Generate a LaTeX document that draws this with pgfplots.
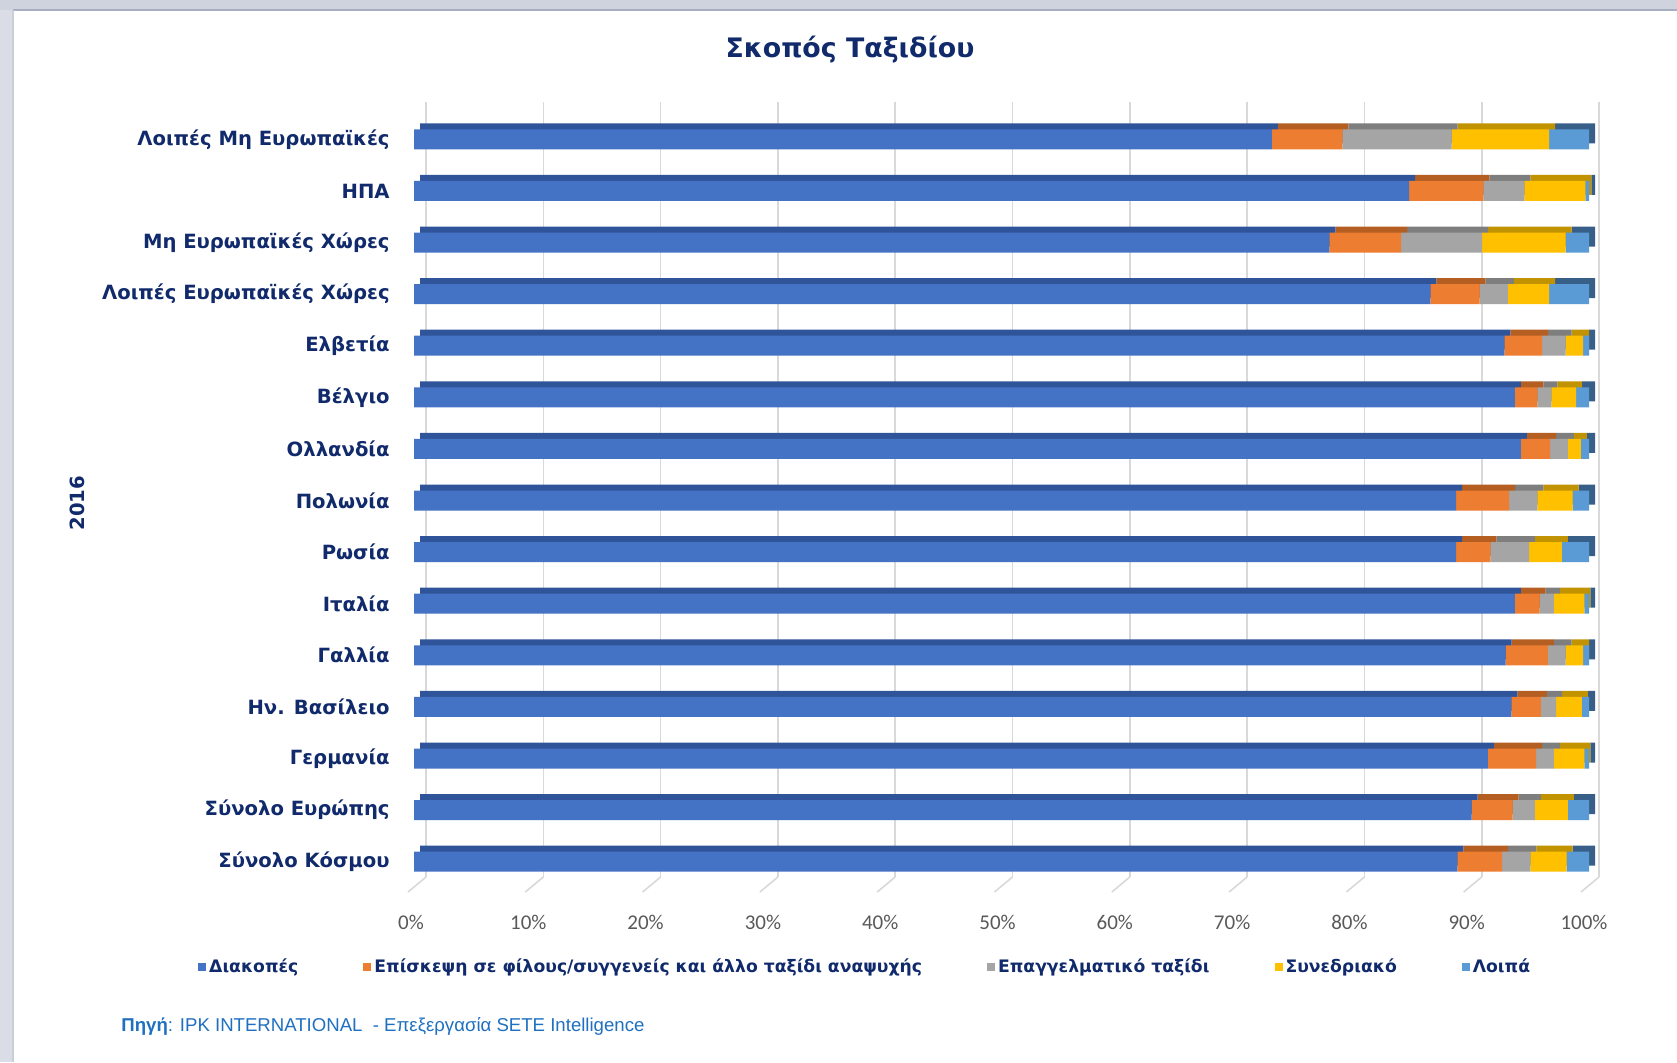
\documentclass[border=0pt]{standalone}
\usepackage{fontspec}
\setmainfont{DejaVu Sans}
\newfontfamily\calib{Carlito}
\newfontfamily\srcfont{Liberation Sans}
\usepackage{pgfplots}
\pgfplotsset{compat=1.18}
\usepackage{pgfplotstable}
\definecolor{navy}{HTML}{102A6B}
\definecolor{cA}{HTML}{4472C4}
\definecolor{cB}{HTML}{ED7D31}
\definecolor{cC}{HTML}{A5A5A5}
\definecolor{cD}{HTML}{FFC000}
\definecolor{cE}{HTML}{5B9BD5}
\definecolor{dA}{HTML}{30549A}
\definecolor{dB}{HTML}{B45E22}
\definecolor{dC}{HTML}{7E7E7E}
\definecolor{dD}{HTML}{C29300}
\definecolor{dE}{HTML}{385F88}
\definecolor{gridc}{HTML}{D9D9D9}
\definecolor{tickc}{HTML}{595959}
\definecolor{srcc}{HTML}{1F70C1}
\definecolor{frametop}{HTML}{CFD3DE}
\definecolor{frameline}{HTML}{A7AEC2}
\definecolor{frameleft}{HTML}{DADDE5}

\pgfplotstableread{
y a b c d e
14 73.0 6.0 9.3 8.3 3.4
13 84.7 6.3 3.5 5.2 0.3
12 77.9 6.1 6.9 7.1 2.0
11 86.5 4.2 2.4 3.5 3.4
10 92.8 3.2 2.0 1.5 0.5
9 93.7 1.9 1.2 2.1 1.1
8 94.2 2.5 1.5 1.1 0.7
7 88.7 4.5 2.4 3.0 1.4
6 88.7 2.9 3.3 2.8 2.3
5 93.7 2.1 1.2 2.6 0.4
4 92.9 3.6 1.5 1.5 0.5
3 93.4 2.5 1.3 2.2 0.6
2 91.4 4.1 1.5 2.6 0.4
1 90.0 3.5 1.9 2.8 1.8
0 88.8 3.8 2.4 3.1 1.9
}\data

\begin{document}
\begin{tikzpicture}
\path[use as bounding box] (0,0) rectangle (838.5pt,-531pt);
\fill[white] (0,0) rectangle (838.5pt,-531pt);
\fill[frameleft] (0,0) rectangle (6.5pt,-531pt);
\fill[frametop] (0,0) rectangle (838.5pt,-5pt);
\draw[frameline, line width=1pt] (6.5pt,-5pt) -- (838.5pt,-5pt);
\draw[frameline!60, line width=1pt] (6.5pt,-5pt) -- (6.5pt,-531pt);

% grid (back wall and floor)
\begin{axis}[
  scale only axis, width=586.5pt, height=387.5pt,
  at={(213pt,-51pt)}, anchor=north west,
  xmin=0, xmax=100, ymin=0, ymax=1,
  xtick={0,10,...,100}, ytick=\empty,
  xmajorgrids, grid style={draw=gridc, line width=0.8pt},
  axis line style={draw=none}, tick style={draw=none},
  clip=false,
  /pgf/number format/assume math mode=true,
  xticklabel={\pgfmathprintnumber{\tick}\%},
  xticklabel style={font=\calib\fontsize{10.5}{12}\selectfont, text=tickc, anchor=center, xshift=-7.5pt, yshift=-22.5pt},
]
\pgfplotsinvokeforeach{0,10,...,100}{
  \draw[gridc, line width=0.8pt] (axis cs:#1,0) -- ++(-9pt,-7.5pt);
}
\end{axis}

% back copy of bars (3D top and side faces)
\begin{axis}[
  scale only axis, width=587.5pt, height=387pt,
  at={(210pt,-53.75pt)}, anchor=north west,
  xmin=0, xmax=100, ymin=-0.5, ymax=14.5,
  xbar stacked, bar width=10pt,
  hide axis,
]
\addplot[fill=dA, draw=none] table[x=a, y=y]{\data};
\addplot[fill=dB, draw=none] table[x=b, y=y]{\data};
\addplot[fill=dC, draw=none] table[x=c, y=y]{\data};
\addplot[fill=dD, draw=none] table[x=d, y=y]{\data};
\addplot[fill=dE, draw=none] table[x=e, y=y]{\data};
\end{axis}

% front bars
\begin{axis}[
  scale only axis, width=587.5pt, height=387pt,
  at={(207pt,-56.75pt)}, anchor=north west,
  xmin=0, xmax=100, ymin=-0.5, ymax=14.5,
  xbar stacked, bar width=10pt,
  xtick=\empty,
  ytick={0,...,14},
  yticklabels={Σύνολο Κόσμου, Σύνολο Ευρώπης, Γερμανία, Ην. Βασίλειο, Γαλλία, Ιταλία, Ρωσία, Πολωνία, Ολλανδία, Βέλγιο, Ελβετία, Λοιπές Ευρωπαϊκές Χώρες, Μη Ευρωπαϊκές Χώρες, ΗΠΑ, Λοιπές Μη Ευρωπαϊκές\ },
  yticklabel style={font=\bfseries\fontsize{9.8}{11}\selectfont, text=navy, anchor=east, inner sep=0pt, xshift=-12pt},
  axis line style={draw=none}, tick style={draw=none},
  legend columns=5,
  legend image code/.code={\fill[#1] (0pt,-2pt) rectangle (4pt,2pt);},
  legend style={at={(-0.1840,-0.1027)}, anchor=west, draw=none, fill=none, inner sep=0pt,
    font=\bfseries\fontsize{8.6}{10}\selectfont, text=navy,
    nodes={inner sep=1.5pt},
    /tikz/every even column/.append style={column sep=31pt}},
]
\addplot[fill=cA, draw=none] table[x=a, y=y]{\data};
\addlegendentry{Διακοπές}
\addplot[fill=cB, draw=none] table[x=b, y=y]{\data};
\addlegendentry{Επίσκεψη σε φίλους/συγγενείς και άλλο ταξίδι αναψυχής}
\addplot[fill=cC, draw=none] table[x=c, y=y]{\data};
\addlegendentry{Επαγγελματικό ταξίδι}
\addplot[fill=cD, draw=none] table[x=d, y=y]{\data};
\addlegendentry{Συνεδριακό}
\addplot[fill=cE, draw=none] table[x=e, y=y]{\data};
\addlegendentry{Λοιπά}
\end{axis}

\node[font=\bfseries\fontsize{13.4}{15}\selectfont, text=navy] at (425pt,-25pt) {Σκοπός Ταξιδίου};
\node[rotate=90, font=\bfseries\fontsize{9.8}{11}\selectfont, text=navy] at (38.5pt,-251.5pt) {2016};
\node[anchor=west, inner sep=0pt, font=\srcfont\fontsize{9.3}{11}\selectfont, text=srcc] at (60.5pt,-513pt) {\textbf{Πηγή}: IPK INTERNATIONAL \ - Επεξεργασία SETE Intelligence};
\end{tikzpicture}
\end{document}
